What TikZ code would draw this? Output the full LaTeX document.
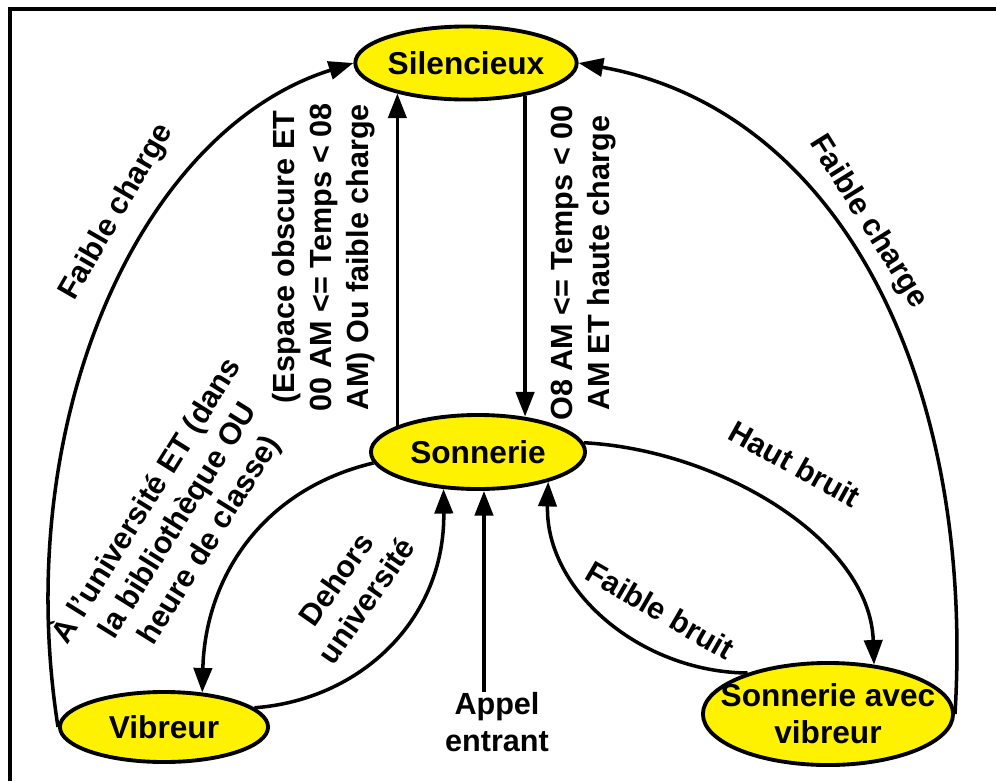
\documentclass[tikz,border=0pt]{standalone}
\usepackage{fontspec}
\setmainfont{Liberation Sans}
\usetikzlibrary{arrows.meta,calc,positioning,shapes.geometric}

\begin{document}
\begin{tikzpicture}[x=0.01cm,y=-0.01cm,
  state/.style={ellipse,draw,line width=1.1pt,fill=yellow,inner sep=0pt,align=center,
    font=\fontsize{9}{10.5}\selectfont\bfseries},
  trans/.style={line width=1pt,-{Triangle[length=7pt,width=5.2pt]}},
  lbl/.style={inner sep=0pt,align=center,font=\fontsize{8.7}{10.5}\selectfont\bfseries}]
\useasboundingbox (0,0) rectangle (996,781);
\draw[line width=1.1pt] (10,781) -- (10,9) -- (996,9);
% states
\node[state,minimum width=2.18cm,minimum height=0.73cm] (sil) at (466,63) {Silencieux};
\node[state,minimum width=2.14cm,minimum height=0.74cm] (son) at (478,452) {Sonnerie};
\node[state,minimum width=2.08cm,minimum height=0.70cm] (vib) at (164,727) {Vibreur};
\node[state,inner xsep=-0.19cm,minimum width=2.50cm,minimum height=1.02cm] (sav) at (828,714) {Sonnerie avec\\vibreur};
\node[lbl] (appel) at (497,722) {Appel\\entrant};
% transitions
\draw[trans] (son.162) -- (son.162 |- sil.204);
\draw[trans] (sil.331) -- (sil.331 |- son.38);
\draw[trans] (vib.west) .. controls (10,420) and (140,130) .. (sil.west);
\draw[trans] (sav.east) .. controls (975,380) and (840,110) .. (sil.east);
\draw[trans] (son.186) .. controls (260,490) and (205,580) .. (vib.42);
\draw[trans] (vib.12) .. controls (360,700) and (445,620) .. (son.227);
\draw[trans] ([xshift=-0.13cm]appel.north) -- ([xshift=-0.13cm]appel.north |- son.south);
\draw[trans] (son.5) .. controls (720,450) and (870,540) .. (sav.47);
\draw[trans] (sav.153) .. controls (640,672) and (545,590) .. (son.337);
% labels
\node[lbl,rotate=60] (lcharge) at (117,212) {Faible charge};
\node[lbl,rotate=-58] (rcharge) at (868,222) {Faible charge};
\node[lbl,rotate=90] (versil) at (324,257) {(Espace obscure ET\\00 AM <= Temps < 08\\AM) Ou faible charge};
\node[lbl,rotate=90] (verson) at (584,263) {O8 AM <= Temps < 00\\AM ET haute charge};
\node[lbl,rotate=58] (versvib) at (177,520) {À l'université ET (dans\\la bibliothèque OU\\heure de classe)};
\node[lbl,rotate=55] (dehors) at (351,590) {Dehors\\université};
\node[lbl,rotate=-29] (haut) at (795,464) {Haut bruit};
\node[lbl,rotate=-30] (faible) at (660,610) {Faible bruit};
\end{tikzpicture}
\end{document}
